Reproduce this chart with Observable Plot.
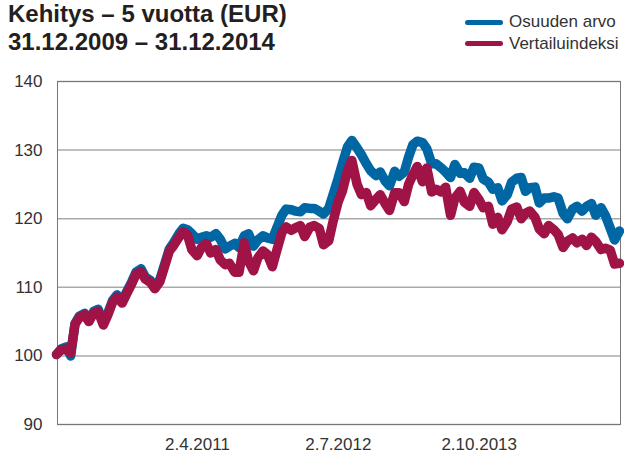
<!DOCTYPE html>
<html><head><meta charset="utf-8">
<script src="https://cdn.jsdelivr.net/npm/d3@7"></script>
<script src="https://cdn.jsdelivr.net/npm/@observablehq/plot@0.6"></script>
<style>
body{margin:0;background:#fff;font-family:"Liberation Sans",Arial,sans-serif;}
#wrap{position:relative;width:624px;height:454px;overflow:hidden;}
.tt{position:absolute;left:8px;font-weight:bold;font-size:24px;line-height:24px;color:#231f20;white-space:nowrap;z-index:2;}
.lg{position:absolute;left:509px;font-size:17px;line-height:20px;color:#333;white-space:nowrap;z-index:2;}
.sw{position:absolute;left:465px;width:38px;height:5px;border-radius:2.5px;z-index:2;}
#plot{position:absolute;left:0;top:0;}
</style></head>
<body>
<div id="wrap">
  <div class="tt" id="t0" style="top:2px"></div>
  <div class="tt" id="t1" style="top:30px"></div>
  <div class="sw" id="sw0" style="top:19.5px"></div><div class="lg" id="lg0" style="top:12px"></div>
  <div class="sw" id="sw1" style="top:40.5px"></div><div class="lg" id="lg1" style="top:34px"></div>
  <div id="plot"></div>
</div>
<script>
const titleLines = ["Kehitys – 5 vuotta (EUR)", "31.12.2009 – 31.12.2014"];
const seriesNames = ["Osuuden arvo", "Vertailuindeksi"];
const seriesColors = ["#0066a4", "#a01347"];
const yTicks = [90, 100, 110, 120, 130, 140];
const xTickLabels = ["2.4.2011", "2.7.2012", "2.10.2013"];

const dates = [
"2009-12-31","2010-01-15","2010-02-01","2010-02-15","2010-03-01","2010-03-15","2010-04-01","2010-04-15","2010-05-01","2010-05-15","2010-06-01","2010-06-15","2010-07-01","2010-07-15","2010-08-01","2010-08-15","2010-09-01","2010-09-15","2010-10-01","2010-10-15","2010-11-01","2010-11-15","2010-12-01","2010-12-15",
"2011-01-01","2011-01-15","2011-02-01","2011-02-15","2011-03-01","2011-03-15","2011-04-01","2011-04-15","2011-05-01","2011-05-15","2011-06-01","2011-06-15","2011-07-01","2011-07-15","2011-08-01","2011-08-15","2011-09-01","2011-09-15","2011-10-01","2011-10-15","2011-11-01","2011-11-15","2011-12-01","2011-12-15",
"2012-01-01","2012-01-15","2012-02-01","2012-02-15","2012-03-01","2012-03-15","2012-04-01","2012-04-15","2012-05-01","2012-05-15","2012-06-01","2012-06-15","2012-07-01","2012-07-15","2012-08-01","2012-08-15","2012-09-01","2012-09-15","2012-10-01","2012-10-15","2012-11-01","2012-11-15","2012-12-01","2012-12-15",
"2013-01-01","2013-01-15","2013-02-01","2013-02-15","2013-03-01","2013-03-15","2013-04-01","2013-04-15","2013-05-01","2013-05-15","2013-06-01","2013-06-15","2013-07-01","2013-07-15","2013-08-01","2013-08-15","2013-09-01","2013-09-15","2013-10-01","2013-10-15","2013-11-01","2013-11-15","2013-12-01","2013-12-15",
"2014-01-01","2014-01-15","2014-02-01","2014-02-15","2014-03-01","2014-03-15","2014-04-01","2014-04-15","2014-05-01","2014-05-15","2014-06-01","2014-06-15","2014-07-01","2014-07-15","2014-08-01","2014-08-15","2014-09-01","2014-09-15","2014-10-01","2014-10-15","2014-11-01","2014-11-15","2014-12-01","2014-12-15",
"2014-12-31"];

const osuudenArvo = [
100.2,101.0,101.3,100.0,104.7,105.8,106.2,105.2,106.5,106.8,104.8,106.2,108.1,108.9,108.0,109.3,110.8,112.2,112.7,111.5,111.0,110.1,111.1,113.1,
115.6,116.5,117.8,118.6,118.4,117.8,117.0,117.3,117.5,117.3,117.8,117.0,115.6,116.0,116.4,115.8,117.5,117.8,116.0,116.9,117.5,117.2,117.0,118.6,
120.5,121.4,121.3,121.1,121.0,121.6,121.5,121.5,121.1,120.7,121.5,123.5,125.8,128.0,130.5,131.4,130.3,129.3,128.0,127.0,126.3,126.8,125.5,124.8,
126.9,126.2,126.8,129.0,130.8,131.3,131.1,130.2,128.0,128.0,127.4,126.8,126.0,127.9,126.6,126.7,125.9,127.5,127.4,125.8,125.3,124.3,124.5,122.6,
123.5,125.3,125.9,126.0,124.0,124.5,124.6,122.3,123.0,123.0,123.2,123.0,120.8,120.0,121.4,121.8,121.1,121.8,122.2,120.5,121.6,120.5,118.6,116.9,
118.2];

const vertailuindeksi = [
100.2,100.9,101.0,100.4,104.6,105.6,106.0,105.0,106.3,106.5,104.5,105.9,107.8,108.6,107.7,109.0,110.5,111.9,112.3,111.2,110.7,109.8,110.8,112.8,
115.3,116.1,117.3,118.1,117.6,115.5,114.6,115.8,116.4,115.0,115.5,114.0,113.3,113.5,112.2,112.2,116.5,113.8,112.4,114.3,115.3,114.8,113.0,115.3,
118.0,118.8,118.3,118.7,119.0,117.4,118.8,119.0,118.6,116.2,116.8,119.6,122.4,124.0,127.0,128.5,125.0,123.5,123.8,121.9,122.8,123.5,122.2,121.2,
123.8,123.8,122.5,125.0,126.4,127.6,125.4,127.4,123.9,124.3,123.9,124.6,120.5,123.0,124.0,122.4,121.8,123.8,122.8,121.6,121.8,119.2,120.2,118.4,
119.6,121.4,121.7,120.0,120.8,121.1,120.2,118.5,117.8,119.0,118.4,117.7,115.8,116.7,117.2,116.5,117.0,116.1,117.3,116.7,115.5,115.7,115.4,113.4,
113.5];

const parse = d3.utcParse("%Y-%m-%d");
const data = [];
[osuudenArvo, vertailuindeksi].forEach((vals, s) => {
  vals.forEach((v, i) => data.push({date: parse(dates[i]), value: v, series: seriesNames[s]}));
});
const xTicks = xTickLabels.map(s => { const [d, m, y] = s.split(".").map(Number); return new Date(Date.UTC(y, m - 1, d)); });
const fmt = d => `${d.getUTCDate()}.${d.getUTCMonth() + 1}.${d.getUTCFullYear()}`;

titleLines.forEach((t, i) => { document.getElementById("t" + i).textContent = t; });
seriesNames.forEach((n, i) => {
  document.getElementById("lg" + i).textContent = n;
  document.getElementById("sw" + i).style.background = seriesColors[i];
});

const chart = Plot.plot({
  width: 624, height: 454,
  marginTop: 81, marginBottom: 30, marginLeft: 57, marginRight: 4,
  style: {fontFamily: '"Liberation Sans", Arial, sans-serif', fontSize: "17px", color: "#333", background: "transparent"},
  x: {type: "utc", domain: [parse(dates[0]), parse(dates[dates.length - 1])], range: [56, 619], ticks: xTicks, tickFormat: fmt, tickSize: 0, tickPadding: 13, label: null},
  y: {domain: [90, 140], ticks: yTicks, tickSize: 0, tickPadding: 15, label: null},
  color: {domain: seriesNames, range: seriesColors},
  marks: [
    Plot.gridY(yTicks, {stroke: "#aaa", strokeOpacity: 1, strokeWidth: 1.5}),
    Plot.frame({stroke: "#777", strokeWidth: 1}),
    Plot.line(data, {x: "date", y: "value", z: "series", stroke: "series", strokeWidth: 9.5, strokeLinejoin: "round", strokeLinecap: "round"})
  ]
});
document.getElementById("plot").appendChild(chart);
</script>
</body></html>
